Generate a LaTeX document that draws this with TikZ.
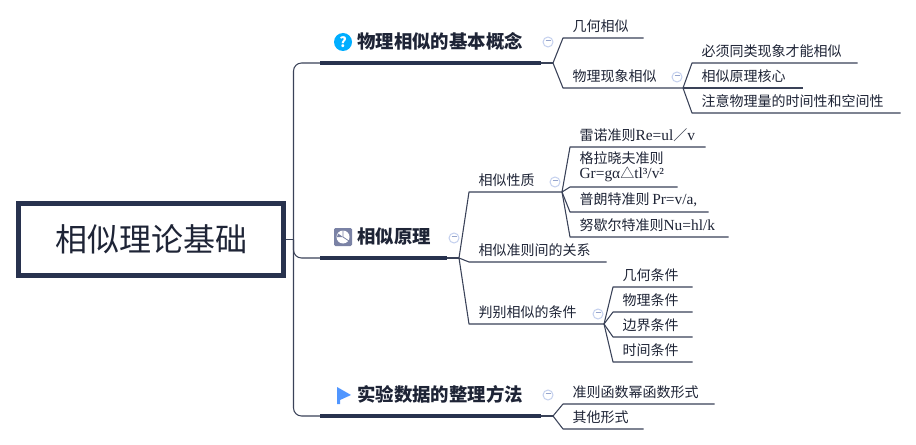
\documentclass[tikz,border=0pt]{standalone}
\usepackage{fontspec}
\setmainfont{Noto Sans CJK SC}
\newfontfamily\latinfont[Scale=1.1]{Liberation Serif}
\usetikzlibrary{positioning}
\definecolor{mapnavy}{RGB}{40,50,78}
\definecolor{mapline}{RGB}{58,66,88}
\definecolor{foldline}{RGB}{196,208,238}
\definecolor{foldbar}{RGB}{150,165,205}
\definecolor{iconblue}{RGB}{0,174,255}
\definecolor{iconslate}{RGB}{122,130,165}
\definecolor{flagblue}{RGB}{80,150,255}
\definecolor{txtdark}{RGB}{30,36,54}

\begin{document}
\begin{tikzpicture}[
    x=0.75pt,y=-0.75pt,
    link/.style={draw=mapline,line width=0.8pt,line join=round},
    trunk/.style={link,rounded corners=6pt},
    bar/.style={draw=mapnavy,line width=3pt},
    rootbox/.style={draw=mapnavy,line width=3.75pt,minimum width=198.75pt,minimum height=53.25pt,inner sep=0pt,font=\fontsize{24}{28}\selectfont,text=txtdark},
    topic/.style={anchor=south west,inner xsep=0pt,inner ysep=11pt,text width=#1*0.75pt,align=left,font=\fontsize{13.8}{16}\bfseries\selectfont,text=txtdark},
    leaf/.style={anchor=south west,inner xsep=7pt,inner ysep=3.6pt,text width=(#1-18.7)*0.75pt,align=left,font=\fontsize{10.5}{11.25}\selectfont,text=txtdark},
    fold/.style={circle,draw=foldline,line width=0.75pt,fill=white,minimum size=7.5pt,inner sep=0pt,text=foldbar},
]
\useasboundingbox (0,0) rectangle (916,445);
\fill[white] (0,0) rectangle (916,445);

% ================= centre and the three main branches =================
\node[rootbox] (root) at (151,239.5) {\raisebox{1pt}{相似理论基础}};
\coordinate (hub) at (293.5,239.5);

\node[topic=220,text depth=0pt] (concept) at (320,63) {\hspace*{27.75pt}物理相似的基本概念};
\node[topic=126,text depth=0pt] (theory) at (320,258) {\hspace*{27.75pt}相似原理};
\node[topic=220,text depth=0pt] (method) at (320,416) {\hspace*{27.75pt}实验数据的整理方法};

\draw[link] (root.east) -- (hub);
\foreach \topic in {concept,theory,method}{
  \draw[trunk] (hub) |- (\topic.south west);
  \draw[bar] (\topic.south west) -- (\topic.south east);
}

% icons in front of the branch titles
\node[circle,fill=iconblue,minimum size=13.5pt,inner sep=0pt,text=white,font=\fontsize{10.5}{10.5}\bfseries\selectfont] (iconq) at (343,42) {?};
\node[fill=iconslate,rounded corners=1pt,minimum size=13.5pt,inner sep=0pt] (iconpie) at (343,237) {};
\fill[white] (iconpie.center) circle (6.5);
\draw[iconslate,line width=0.6pt] (iconpie.center) -- (343,230) (iconpie.center) -- (349,241);
\fill[iconslate] (iconpie.center) -- (337,237) -- (338,233.5) -- cycle;
\fill[flagblue] (337,387) -- (351,395) -- (340,400) -- (340,404) -- (337,404) -- cycle;

% ================= first branch =================
\coordinate (fork1) at (553,63);
\coordinate (fork1b) at (683,88);
\node[leaf=80] (geo) at (563,38) {几何相似};
\node[leaf=120] (phen) at (563,88) {物理现象相似};
\node[leaf=165] (same) at (692,63) {必须同类现象才能相似};
\node[leaf=110] (core) at (692,88) {相似原理核心};
\node[leaf=208] (note) at (692,113) {注意物理量的时间性和空间性};

\draw[link] (concept.south east) -- (fork1);
\foreach \leafname in {geo,phen}{
  \draw[link] (fork1) -- (\leafname.south west) -- (\leafname.south east);
}
\foreach \leafname in {same,core,note}{
  \draw[link] (fork1b) -- (\leafname.south west) -- (\leafname.south east);
}

% ================= second branch =================
\coordinate (fork2) at (459,258);
\coordinate (fork2a) at (562,192);
\coordinate (fork2c) at (604,324);
\node[leaf=93] (prop) at (469,192) {相似性质};
\node[leaf=137] (rel) at (469,262) {相似准则间的关系};
\node[leaf=135] (judge) at (469,324) {判别相似的条件};
\node[leaf=135] (re) at (570,147) {雷诺准则{\latinfont Re=ul}／{\latinfont v}};
\node[leaf=107] (gr) at (570,187) {格拉晓夫准则\\{\latinfont Gr=gα}△{\latinfont tl³/v²}};
\node[leaf=138] (pr) at (570,212) {普朗特准则\hspace{2pt}{\latinfont Pr=v/a,}};
\node[leaf=158] (nu) at (570,237) {努歇尔特准则{\latinfont Nu=hl/k}};
\node[leaf=79] (cgeo) at (613,287) {几何条件};
\node[leaf=79] (cphy) at (613,312) {物理条件};
\node[leaf=79] (cbnd) at (613,337) {边界条件};
\node[leaf=79] (ctim) at (613,362) {时间条件};

\draw[link] (theory.south east) -- (fork2);
\foreach \leafname in {prop,rel,judge}{
  \draw[link] (fork2) -- (\leafname.south west) -- (\leafname.south east);
}
\foreach \leafname in {re,gr,pr,nu}{
  \draw[link] (fork2a) -- (\leafname.south west) -- (\leafname.south east);
}
\foreach \leafname in {cgeo,cphy,cbnd,ctim}{
  \draw[link] (fork2c) -- (\leafname.south west) -- (\leafname.south east);
}

% ================= third branch =================
\coordinate (fork3) at (553,416);
\node[leaf=151] (power) at (563,404) {准则函数幂函数形式};
\node[leaf=80] (other) at (563,429) {其他形式};

\draw[link] (method.south east) -- (fork3);
\foreach \leafname in {power,other}{
  \draw[link] (fork3) -- (\leafname.south west) -- (\leafname.south east);
}

% ================= fold markers =================
\foreach \x/\y/\foldname in {548/42/fa,677/77/fb,454/238/fc,555/182/fd,598/314/fe,548/395/ff}{
  \node[fold] (\foldname) at (\x,\y) {\rule[1.9pt]{3.75pt}{0.6pt}};
}

\end{tikzpicture}
\end{document}
